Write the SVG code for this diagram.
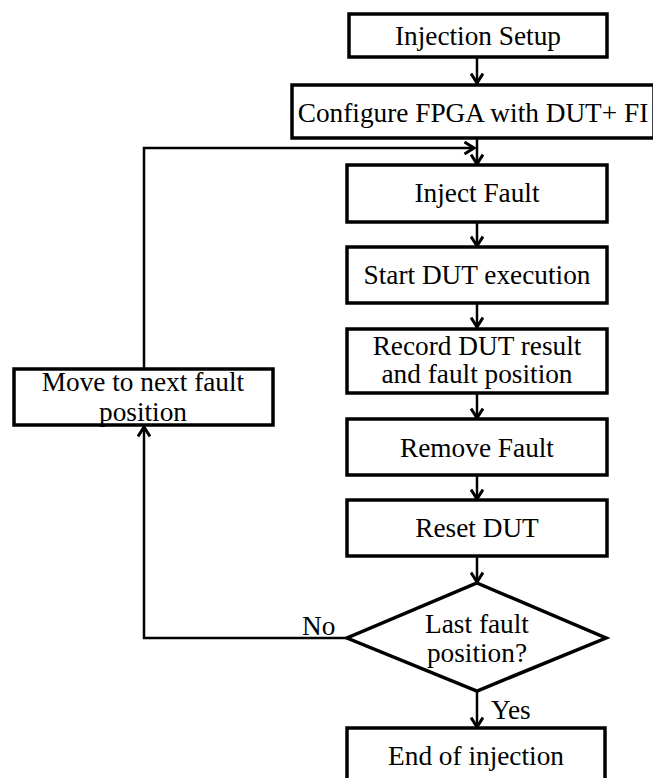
<svg xmlns="http://www.w3.org/2000/svg" width="653" height="778" viewBox="0 0 653 778">
<style>
.box{fill:#fff;stroke:#000;stroke-width:3.5}
.t{font-family:"Liberation Serif","Times New Roman",serif;font-size:27.3px;fill:#000;text-anchor:middle}
.l{font-family:"Liberation Serif","Times New Roman",serif;font-size:27.3px;fill:#000}
.c{fill:none;stroke:#000;stroke-width:2.5}
</style>
<defs>
<marker id="arr" viewBox="0 0 14 14" refX="12.5" refY="7" markerWidth="14" markerHeight="14" markerUnits="userSpaceOnUse" orient="auto">
<path d="M3,1 L12.5,7 L3,13" fill="none" stroke="#000" stroke-width="3"/>
</marker>
</defs>
<rect width="653" height="778" fill="#fff"/>
<g id="connectors">
<path class="c" d="M477,57 V83" marker-end="url(#arr)"/>
<path class="c" d="M477,138 V164" marker-end="url(#arr)"/>
<path class="c" d="M144,369 V148 H474" marker-end="url(#arr)"/>
<path class="c" d="M477,222 V246" marker-end="url(#arr)"/>
<path class="c" d="M477,303 V327" marker-end="url(#arr)"/>
<path class="c" d="M477,393 V418" marker-end="url(#arr)"/>
<path class="c" d="M477,475 V499" marker-end="url(#arr)"/>
<path class="c" d="M477,556 V582" marker-end="url(#arr)"/>
<path class="c" d="M347,638 H144 V427" marker-end="url(#arr)"/>
<path class="c" d="M477,691 V727" marker-end="url(#arr)"/>
</g>
<g id="n-setup"><rect class="box" x="349" y="14" width="258" height="43"/><text class="t" x="478" y="45">Injection Setup</text></g>
<g id="n-config"><rect class="box" x="292" y="85" width="362" height="53"/><text class="t" x="473" y="122">Configure FPGA with DUT+ FI</text></g>
<g id="n-inject"><rect class="box" x="347" y="165" width="260" height="57"/><text class="t" x="477" y="202">Inject Fault</text></g>
<g id="n-start"><rect class="box" x="347" y="247" width="260" height="56"/><text class="t" x="477" y="284">Start DUT execution</text></g>
<g id="n-record"><rect class="box" x="347" y="329" width="260" height="64"/><text class="t" x="477" y="355">Record DUT result</text><text class="t" x="477" y="383">and fault position</text></g>
<g id="n-remove"><rect class="box" x="347" y="419" width="260" height="56"/><text class="t" x="477" y="457">Remove Fault</text></g>
<g id="n-reset"><rect class="box" x="347" y="500" width="260" height="56"/><text class="t" x="477" y="537">Reset DUT</text></g>
<g id="n-decision"><polygon class="box" points="477,583 606,638 477,691 347,638"/><text class="t" x="477" y="633">Last fault</text><text class="t" x="477" y="662">position?</text></g>
<g id="n-end"><rect class="box" x="347" y="728" width="258" height="60"/><text class="t" x="476" y="765">End of injection</text></g>
<g id="n-move"><rect class="box" x="14" y="369" width="259" height="56"/><text class="t" x="143" y="391">Move to next fault</text><text class="t" x="143" y="421">position</text></g>
<g id="labels"><text class="l" x="302" y="635">No</text><text class="l" x="491" y="719">Yes</text></g>
</svg>
